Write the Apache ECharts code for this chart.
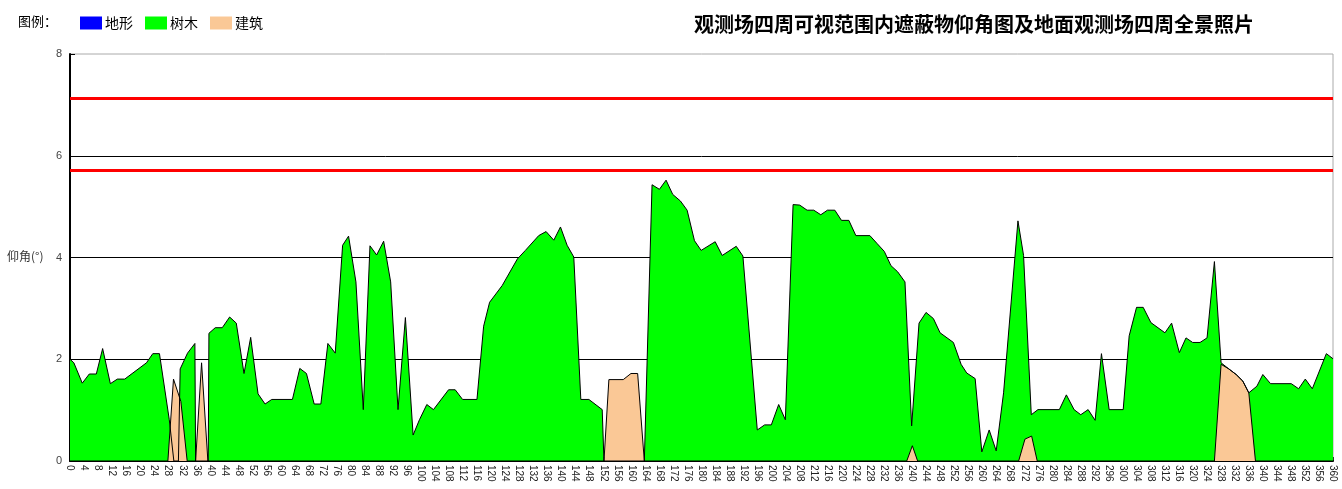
<!DOCTYPE html>
<html>
<head>
<meta charset="utf-8">
<script src="https://cdn.jsdelivr.net/npm/echarts@6/dist/echarts.min.js"></script>
<style>
html,body{margin:0;padding:0;background:#fff;}
#chart{width:1342px;height:489px;}
</style>
</head>
<body>
<div id="chart"></div>
<script>
// ---- data ----
const seriesNames = ['地形', '树木', '建筑'];
const xTickLabels = { min: 0, max: 360, step: 4 };
const yTickLabels = [0, 2, 4, 6, 8];

const terrainDeg = [];
const terrainVal = [];

const treeDeg = [0, 1.1, 3.5, 5.5, 7.5, 9.3, 11.5, 13.5, 15.6, 21.8, 23.6, 25.5, 28.3, 29.6, 30.9, 31.4, 33.5, 35.6, 35.8, 39.4, 39.6,
  41.4, 43.4, 45.5, 47.4, 49.6, 51.5, 53.6, 55.6, 57.5, 63.4, 65.5, 67.4, 69.6, 71.5, 73.5, 75.6, 77.7, 79.4, 81.5, 83.6,
  85.5, 87.4, 89.4, 91.4, 93.5, 95.6, 97.8, 99.6, 101.7, 103.6, 107.9, 109.8, 111.9, 116.0, 117.9, 119.6, 123.2, 127.5,
  129.8, 133.6, 135.7, 137.9, 139.8, 141.7, 143.6, 145.6, 147.9, 151.7, 152.2, 163.7, 165.9, 168.0, 169.9, 171.8, 174.0,
  175.9, 178.0, 179.9, 183.9, 185.9, 189.9, 191.8, 195.9, 198.0, 199.9, 202.0, 203.9, 206.1, 208.0, 210.1, 212.0, 214.0,
  215.9, 218.0, 219.9, 222.0, 224.0, 228.0, 230.1, 232.1, 234.0, 235.9, 238.0, 239.9, 242.0, 244.0, 246.1, 248.0, 251.8,
  254.0, 255.6, 258.0, 259.9, 262.0, 264.0, 266.1, 270.2, 271.8, 274.0, 275.9, 282.0, 284.0, 286.2, 288.1, 290.2, 292.2,
  294.0, 296.2, 300.2, 301.9, 304.0, 305.9, 308.1, 312.1, 314.0, 316.2, 318.1, 320.0, 322.1, 324.1, 326.2, 328.1, 330.3,
  332.4, 334.3, 336.0, 338.3, 340.0, 342.2, 348.1, 350.2, 352.1, 354.1, 358.1, 360];
const treeVal = [2.0, 1.93, 1.53, 1.71, 1.71, 2.21, 1.52, 1.61, 1.61, 1.93, 2.11, 2.11, 0.81, 0, 0, 1.81, 2.12, 2.31, 0, 0, 2.51,
  2.62, 2.62, 2.83, 2.71, 1.72, 2.43, 1.32, 1.12, 1.21, 1.21, 1.82, 1.72, 1.12, 1.12, 2.31, 2.12, 4.24, 4.42, 3.52, 1.01,
  4.23, 4.05, 4.32, 3.52, 1.01, 2.82, 0.51, 0.81, 1.11, 1.01, 1.40, 1.40, 1.21, 1.21, 2.65, 3.12, 3.45, 3.97,
  4.14, 4.43, 4.51, 4.34, 4.60, 4.24, 4.01, 1.21, 1.21, 1.01, 0, 0, 5.43, 5.34, 5.52, 5.24, 5.11,
  4.93, 4.33, 4.14, 4.31, 4.04, 4.22, 4.03, 0.61, 0.71, 0.71, 1.11, 0.81, 5.04, 5.03, 4.93, 4.93, 4.84,
  4.93, 4.93, 4.73, 4.73, 4.43, 4.43, 4.27, 4.12, 3.84, 3.72, 3.52, 0.69, 2.71, 2.92, 2.80, 2.52, 2.33,
  1.90, 1.73, 1.62, 0.18, 0.61, 0.20, 1.34, 4.72, 4.04, 0.91, 1.01, 1.01, 1.30, 1.01, 0.91, 1.01, 0.80,
  2.11, 1.01, 1.01, 2.46, 3.02, 3.02, 2.72, 2.52, 2.71, 2.13, 2.42, 2.33, 2.33, 2.42, 3.92, 1.93, 1.81,
  1.70, 1.57, 1.34, 1.47, 1.70, 1.52, 1.52, 1.42, 1.61, 1.42, 2.11, 2.01];

const buildDeg = [0, 27.9, 29.5, 31.6, 33.4, 35.8, 37.5, 39.3, 152.2, 153.6, 157.7, 159.9, 161.8, 163.7,
  238.5, 240.1, 241.6, 270.4, 272.2, 274.1, 275.7, 326.2, 328.1, 330.3, 332.4, 334.3, 336.0, 337.9, 360];
const buildVal = [0, 0, 1.61, 1.17, 0, 0, 1.93, 0, 0, 1.60, 1.60, 1.72, 1.72, 0,
  0, 0.30, 0, 0, 0.43, 0.49, 0, 0, 1.90, 1.81, 1.70, 1.57, 1.34, 0, 0];

const redLevels = [7.13, 5.72];

// ---- chart ----
const zip = (xs, ys) => xs.map((x, i) => [x, ys[i]]);
const fills = ['#0000FF', '#00FF00', '#FAC896'];
const numFont = 'Liberation Sans, Arial, sans-serif';
const cjkFont = 'Noto Sans CJK SC, sans-serif';

const chart = echarts.init(document.getElementById('chart'), null, { renderer: 'canvas' });

const option = {
  animation: false,
  backgroundColor: '#fff',
  title: {
    text: '观测场四周可视范围内遮蔽物仰角图及地面观测场四周全景照片',
    left: 689, top: 9,
    textStyle: { fontFamily: cjkFont, fontSize: 20, fontWeight: 'bold', color: '#000' }
  },
  graphic: [
    { type: 'text', left: 18, top: 15, style: { text: '图例：', font: '13px ' + cjkFont, fill: '#000' } },
    { type: 'text', left: 7, top: 250, style: { text: '仰角(°)', font: '12px ' + cjkFont, fill: '#333' } }
  ],
  legend: {
    left: 80, top: 16, padding: 0,
    icon: 'rect', itemWidth: 22, itemHeight: 13, itemGap: 12,
    itemStyle: { borderWidth: 0 },
    textStyle: { fontFamily: cjkFont, fontSize: 14, color: '#000', padding: [0, 0, 0, -2] },
    data: seriesNames.map((n, i) => ({ name: n, itemStyle: { color: fills[i], borderWidth: 0 } }))
  },
  grid: { left: 70, right: 9, top: 54, bottom: 28, show: true, borderColor: '#aaa', borderWidth: 1, backgroundColor: '#fff' },
  xAxis: {
    type: 'value', min: xTickLabels.min, max: xTickLabels.max, interval: 2,
    axisLine: { show: true, lineStyle: { color: '#000', width: 2 } },
    axisTick: { show: true, inside: true, length: 4, lineStyle: { color: '#000', width: 1.5 } },
    splitLine: { show: false },
    axisLabel: {
      rotate: -90, fontSize: 10, color: '#222', fontFamily: numFont, margin: 4, hideOverlap: false,
      formatter: v => (v % xTickLabels.step === 0 ? String(v) : '')
    }
  },
  yAxis: {
    type: 'value', min: yTickLabels[0], max: yTickLabels[yTickLabels.length - 1], interval: 2,
    axisLine: { show: true, lineStyle: { color: '#000', width: 2 } },
    axisTick: { show: true, inside: true, length: 5, lineStyle: { color: '#000', width: 1 } },
    splitLine: { show: true, showMinLine: false, showMaxLine: false, lineStyle: { color: '#000', width: 1 } },
    axisLabel: { fontSize: 11, color: '#444', fontFamily: numFont, margin: 8 }
  },
  series: [
    {
      name: seriesNames[0], type: 'line', data: zip(terrainDeg, terrainVal), symbol: 'none',
      itemStyle: { color: fills[0] }, lineStyle: { color: '#000', width: 1 }, areaStyle: { color: fills[0], opacity: 1 }
    },
    {
      name: seriesNames[1], type: 'line', data: zip(treeDeg, treeVal), symbol: 'none',
      itemStyle: { color: fills[1] }, lineStyle: { color: '#000', width: 1 }, areaStyle: { color: fills[1], opacity: 1 },
      markLine: {
        silent: true, symbol: 'none', label: { show: false },
        lineStyle: { color: '#FF0000', width: 3, type: 'solid' },
        data: redLevels.map(v => ({ yAxis: v }))
      }
    },
    {
      name: seriesNames[2], type: 'line', data: zip(buildDeg, buildVal), symbol: 'none',
      itemStyle: { color: fills[2] }, lineStyle: { color: '#000', width: 1 }, areaStyle: { color: fills[2], opacity: 1 }
    }
  ]
};
chart.setOption(option);
</script>
</body>
</html>
